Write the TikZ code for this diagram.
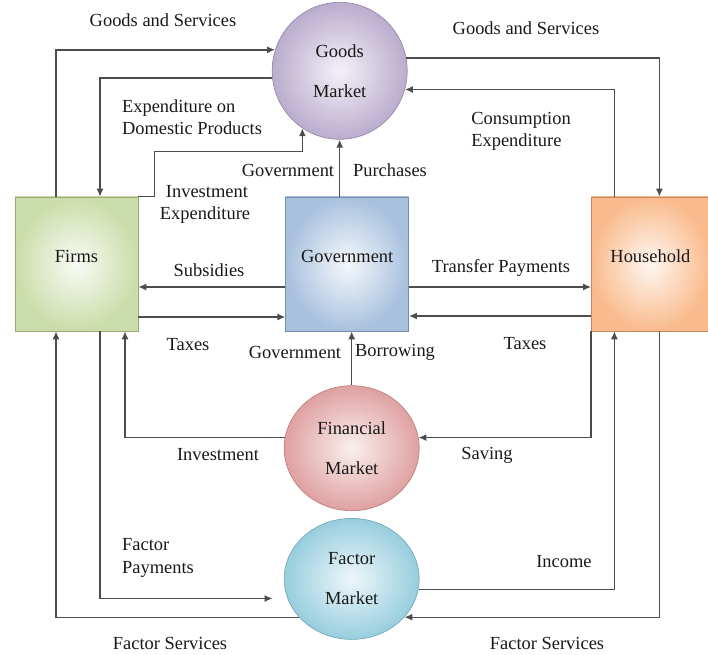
\documentclass[tikz,border=0pt]{standalone}
\usepackage{fontspec}
\setmainfont{Liberation Serif}
\usetikzlibrary{positioning,arrows.meta,shapes.geometric}

\definecolor{firmgreen}{RGB}{190,212,148}
\definecolor{govblue}{RGB}{146,177,214}
\definecolor{houseorange}{RGB}{248,170,112}
\definecolor{goodslilac}{RGB}{178,163,200}
\definecolor{finpink}{RGB}{220,150,150}
\definecolor{factorcyan}{RGB}{140,200,218}

\begin{document}
\begin{tikzpicture}[
        >={Latex[length=4.5pt,width=4pt]},
        font=\fontsize{10.5}{12.6}\selectfont,
        text=black!90,
        sector/.style={draw=#1!80!black, line width=0.4pt, shading=radial,
            inner color=#1!10, outer color=#1!80, text depth=0.3cm,
            minimum width=2.46cm, minimum height=2.68cm},
        market/.style={ellipse, draw=#1!85!black, line width=0.4pt, shading=radial,
            inner color=#1!15, outer color=#1!90, align=center,
            minimum width=2.7cm, minimum height=2.5cm},
        flow/.style={->, draw=black!70, line width=0.8pt},
        lbl/.style={inner sep=1pt}
    ]
      \useasboundingbox (0,0) rectangle (14.16,13.1);

      % sectors
      \node[sector=firmgreen] (firms) at (1.53,7.82) {Firms};
      \node[sector=govblue, right=2.94cm of firms] (gov) {Government};
      \node[sector=houseorange, right=3.64cm of gov, minimum width=2.36cm] (house) {Household};

      % markets
      \node[market=goodslilac, above=1.14cm of gov, xshift=-0.15cm,
            minimum height=2.74cm] (goods) {Goods\\[0.36cm]Market};
      \node[market=finpink, below=1.08cm of gov, xshift=0.09cm] (fin) {Financial\\[0.36cm]Market};
      \node[market=factorcyan, below=0.14cm of fin, minimum height=2.42cm] (fac) {Factor\\[0.36cm]Market};

      % goods market flows
      \draw[flow] ([xshift=-0.41cm]firms.north) |- (goods.162);
      \draw[flow] (goods.186) -| ([xshift=0.47cm]firms.north);
      \draw[flow] (firms.north east) -- ++(0.32,0) -- ++(0,0.9) -| (goods.237);
      \draw[flow] (goods.south |- gov.north) -- (goods.south);
      \draw[flow] (goods.11) -| ([xshift=0.18cm]house.north);
      \draw[flow] ([xshift=-0.72cm]house.north) |- (goods.344);

      % government flows
      \draw[flow] ([yshift=-0.46cm]gov.west) -- ([yshift=-0.46cm]firms.east);
      \draw[flow] ([yshift=-1.06cm]firms.east) -- ([yshift=-1.06cm]gov.west);
      \draw[flow] ([yshift=-0.46cm]gov.east) -- ([yshift=-0.46cm]house.west);
      \draw[flow] ([yshift=-1.04cm]house.west) -- ([yshift=-1.04cm]gov.east);

      % financial market flows
      \draw[flow] (fin.north) -- (fin.north |- gov.south);
      \draw[flow] (fin.171) -| ([xshift=0.97cm]firms.south);
      \draw[flow] (house.south west) |- (fin.9);

      % factor market flows
      \draw[flow, shorten >=0.3cm] ([xshift=0.47cm]firms.south) |- (fac.197);
      \draw[flow] (fac.216) -| ([xshift=-0.41cm]firms.south);
      \draw[flow] (fac.351) -| ([xshift=-0.72cm]house.south);
      \draw[flow] ([xshift=0.18cm]house.south) |- (fac.324);

      % labels
      \node[lbl] (gsfirms) at (3.26,12.7) {Goods and Services};
      \node[lbl] (gshouse) at (10.52,12.54) {Goods and Services};
      \node[lbl, align=left] (expdom) at (3.84,10.76) {Expenditure on\\Domestic Products};
      \node[lbl, align=left] (invexp) at (4.1,9.02) {\hspace{0.12cm}Investment\\Expenditure};
      \node[lbl, align=left] (consexp) at (10.42,10.48) {Consumption\\Expenditure};
      \node[lbl] (govpur) at (5.76,9.7) {Government};
      \node[lbl] (purch) at (7.8,9.7) {Purchases};
      \node[lbl] (subs) at (4.18,7.7) {Subsidies};
      \node[lbl] (transfer) at (10.02,7.74) {Transfer Payments};
      \node[lbl] (taxfirms) at (3.76,6.2) {Taxes};
      \node[lbl] (taxhouse) at (10.5,6.22) {Taxes};
      \node[lbl] (govbor) at (5.9,6.06) {Government};
      \node[lbl] (borrow) at (7.9,6.06) {Borrowing};
      \node[lbl] (invest) at (4.36,4.0) {Investment};
      \node[lbl] (saving) at (9.74,4.0) {Saving};
      \node[lbl, align=left] (facpay) at (3.16,1.94) {Factor\\Payments};
      \node[lbl] (fsfirms) at (3.4,0.24) {Factor Services};
      \node[lbl] (income) at (11.28,1.86) {Income};
      \node[lbl] (fshouse) at (10.94,0.24) {Factor Services};
    \end{tikzpicture}
\end{document}
